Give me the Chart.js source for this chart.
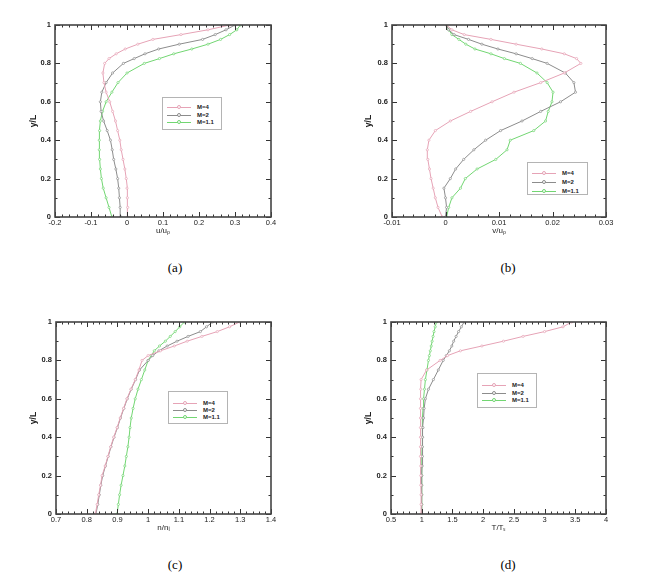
<!DOCTYPE html>
<html><head><meta charset="utf-8">
<script src="https://cdn.jsdelivr.net/npm/chart.js@4.4.0/dist/chart.umd.min.js"></script>
<style>
body{margin:0;background:#fff;width:670px;height:587px;position:relative;overflow:hidden;font-family:"Liberation Sans",Arial,sans-serif}
.pan{position:absolute;width:335px;height:250px}
.cap{position:absolute;font-family:"Liberation Serif","Times New Roman",serif;font-size:13px;width:40px;text-align:center;color:#000}
.leg{position:absolute;border:1px solid #b4b4b4;background:#fff;box-sizing:border-box}
.row{position:absolute;left:0;height:0}
.ln{position:absolute;left:4px;width:24px;height:0;border-top:1px solid}
.mk{position:absolute;left:14px;width:2px;height:2px;border:1px solid;border-radius:50%;top:-2px;background:#fff}
.lt{position:absolute;left:34px;top:-4px;font-size:6px;font-weight:bold;line-height:8px;white-space:nowrap;color:#222}
</style></head>
<body>
<div class="pan" style="left:0;top:0"><canvas id="ca" width="335" height="250"></canvas></div>
<div class="pan" style="left:335px;top:0"><canvas id="cb" width="335" height="250"></canvas></div>
<div class="pan" style="left:0;top:297px"><canvas id="cc" width="335" height="250"></canvas></div>
<div class="pan" style="left:335px;top:297px"><canvas id="cd" width="335" height="250"></canvas></div>
<div class="cap" style="left:155px;top:260px">(a)</div>
<div class="cap" style="left:488px;top:260px">(b)</div>
<div class="cap" style="left:155px;top:557px">(c)</div>
<div class="cap" style="left:488px;top:557px">(d)</div>
<script>
// ---- data ----
const seriesNames = ["M=4", "M=2", "M=1.1"];
const seriesColors = ["#e6a3b6", "#8c8c8c", "#72d672"];
const yLevels = [0,0.05,0.1,0.15,0.2,0.25,0.3,0.35,0.4,0.45,0.5,0.55,0.6,0.65,0.7,0.75,0.8,0.825,0.85,0.875,0.9,0.925,0.95,0.975,1];
const yTicks = [0,0.2,0.4,0.6,0.8,1];

// (a) u/u_p
const uM4  = [0.002,0.002,0.001,0.0,-0.002,-0.006,-0.011,-0.016,-0.02,-0.026,-0.032,-0.04,-0.048,-0.058,-0.064,-0.067,-0.062,-0.05,-0.03,-0.005,0.03,0.072,0.15,0.225,0.285];
const uM2  = [-0.017,-0.019,-0.021,-0.023,-0.026,-0.031,-0.037,-0.041,-0.046,-0.055,-0.065,-0.072,-0.074,-0.07,-0.058,-0.04,-0.01,0.02,0.05,0.088,0.145,0.21,0.245,0.275,0.3];
const uM11 = [-0.042,-0.05,-0.058,-0.066,-0.071,-0.074,-0.076,-0.077,-0.077,-0.076,-0.074,-0.068,-0.058,-0.042,-0.025,0.0,0.048,0.09,0.13,0.18,0.225,0.26,0.285,0.305,0.315];
// (b) v/u_p
const vM4  = [-0.0006,-0.0014,-0.0019,-0.0023,-0.0027,-0.003,-0.0033,-0.0034,-0.0031,-0.0019,0.0009,0.0047,0.0087,0.0128,0.0178,0.0222,0.0253,0.0245,0.0222,0.018,0.0132,0.0085,0.0035,0.0012,0.0002];
const vM2  = [0.0,0.0002,0.0,-0.0003,0.0009,0.0019,0.0034,0.0053,0.0075,0.0103,0.0143,0.0178,0.0215,0.0243,0.024,0.0224,0.019,0.0162,0.0132,0.0098,0.0068,0.0043,0.0016,0.0006,0.0002];
const vM11 = [0.0002,0.0006,0.0012,0.0028,0.0037,0.0059,0.0094,0.0115,0.0121,0.0165,0.0187,0.0192,0.0199,0.0201,0.019,0.0171,0.014,0.011,0.0085,0.0055,0.0038,0.0025,0.0012,0.0006,0.0002];
// (c) n/n_i
const nM4  = [0.828,0.834,0.839,0.845,0.85,0.86,0.869,0.878,0.888,0.899,0.909,0.92,0.931,0.944,0.958,0.97,0.98,1.0,1.04,1.085,1.127,1.175,1.225,1.265,1.298];
const nM2  = [0.83,0.836,0.841,0.846,0.852,0.861,0.87,0.879,0.889,0.9,0.91,0.921,0.932,0.945,0.959,0.972,1.0,1.015,1.035,1.062,1.094,1.13,1.17,1.19,1.21];
const nM11 = [0.899,0.903,0.907,0.912,0.918,0.924,0.929,0.934,0.938,0.941,0.945,0.951,0.958,0.967,0.978,0.989,1.0,1.01,1.02,1.037,1.056,1.072,1.088,1.103,1.118];
// (d) T/T_s
const tM4  = [0.99,0.99,0.99,0.985,0.985,0.985,0.98,0.98,0.98,0.98,0.98,0.98,0.98,0.985,0.99,1.08,1.3,1.42,1.63,1.98,2.33,2.65,3.0,3.3,3.44];
const tM2  = [1.0,1.0,1.0,1.0,1.0,1.005,1.01,1.01,1.015,1.02,1.03,1.04,1.06,1.11,1.19,1.27,1.35,1.4,1.45,1.49,1.52,1.56,1.6,1.645,1.69];
const tM11 = [1.0,1.0,1.0,1.0,1.0,1.002,1.004,1.006,1.008,1.01,1.015,1.022,1.03,1.045,1.06,1.085,1.11,1.125,1.14,1.155,1.17,1.185,1.2,1.22,1.24];

// ---- drawing ----
Chart.defaults.font.family = "'Liberation Sans', Arial, sans-serif";
Chart.defaults.color = '#222';
const fmt = v => String(parseFloat(Number(v).toFixed(4)));

const frameTicks = {
  id: 'frameTicks',
  afterDraw(chart, args, opts) {
    const {ctx, chartArea: a, scales: {x, y}} = chart;
    ctx.save();
    ctx.strokeStyle = '#333';
    ctx.lineWidth = 1;
    ctx.beginPath();
    const xs = (v, len) => { const p = Math.round(x.getPixelForValue(v)) + 0.5; ctx.moveTo(p, a.bottom); ctx.lineTo(p, a.bottom - len); ctx.moveTo(p, a.top); ctx.lineTo(p, a.top + len); };
    const ys = (v, len) => { const p = Math.round(y.getPixelForValue(v)) + 0.5; ctx.moveTo(a.left, p); ctx.lineTo(a.left + len, p); ctx.moveTo(a.right, p); ctx.lineTo(a.right - len, p); };
    const nx = Math.round((opts.xMax - opts.xMin) / opts.xMinor);
    for (let i = 0; i <= nx; i++) { const v = opts.xMin + i * opts.xMinor; xs(v, (i % opts.xPer === 0) ? 5 : 2.5); }
    for (let i = 0; i <= 10; i++) ys(i / 10, (i % 2 === 0) ? 5 : 2.5);
    ctx.stroke();
    ctx.lineWidth = 1.6;
    ctx.strokeStyle = '#444';
    ctx.strokeRect(a.left, a.top, a.right - a.left, a.bottom - a.top);
    ctx.restore();
  }
};

function makePanel(id, xMin, xMax, xStep, xMinor, xTitle, xs, left) {
  const datasets = xs.map((arr, k) => ({
    label: seriesNames[k],
    data: arr.map((v, i) => ({x: v, y: yLevels[i]})),
    showLine: true,
    borderColor: seriesColors[k],
    backgroundColor: '#fff',
    borderWidth: 1,
    pointRadius: 1.1,
    pointBorderWidth: 0.7,
    pointBorderColor: seriesColors[k],
    tension: 0
  }));
  new Chart(document.getElementById(id), {
    type: 'scatter',
    data: {datasets},
    plugins: [frameTicks],
    options: {
      responsive: false, animation: false,
      layout: {padding: {left: 0, top: 25, right: 64, bottom: 0}},
      plugins: {legend: {display: false}, tooltip: {enabled: false},
        frameTicks: {xMin, xMax, xMinor, xPer: Math.round(xStep / xMinor)}},
      scales: {
        x: {type: 'linear', min: xMin, max: xMax,
          grid: {display: false, drawTicks: false},
          border: {display: false},
          ticks: {stepSize: xStep, padding: 1, maxRotation: 0, font: {size: 7.5}, color: '#222', callback: fmt},
          title: {display: true, text: xTitle, font: {size: 8}, padding: {top: 0, bottom: 14}, color: '#222'},
          afterFit: s => { s.height = 33; s.paddingLeft = 0; s.paddingRight = 0; }
        },
        y: {type: 'linear', min: 0, max: 1,
          grid: {display: false, drawTicks: false},
          border: {display: false},
          afterBuildTicks: s => { s.ticks = yTicks.map(v => ({value: v})); },
          ticks: {padding: 4, font: {size: 7.5, weight: 'bold'}, color: '#222', callback: fmt},
          title: {display: true, text: 'y/L', font: {size: 8.5, weight: 'bold'}, padding: {top: 29, bottom: 0}, color: '#222'},
          afterFit: s => { s.width = left; s.paddingTop = 0; s.paddingBottom = 0; }
        }
      }
    }
  });
}

makePanel('ca', -0.2, 0.4, 0.1, 0.02, 'u/uₚ', [uM4, uM2, uM11], 55);
makePanel('cb', -0.01, 0.03, 0.01, 0.002, 'v/uₚ', [vM4, vM2, vM11], 57);
makePanel('cc', 0.7, 1.4, 0.1, 0.02, 'n/nᵢ', [nM4, nM2, nM11], 56);
makePanel('cd', 0.5, 4, 0.5, 0.1, 'T/Tₛ', [tM4, tM2, tM11], 56);

function makeLegend(left, top, w, h, rows) {
  const box = document.createElement('div');
  box.className = 'leg';
  box.style.cssText = `left:${left}px;top:${top}px;width:${w}px;height:${h}px`;
  rows.forEach((ry, k) => {
    const r = document.createElement('div');
    r.className = 'row';
    r.style.top = ry + 'px';
    r.innerHTML = `<div class="ln" style="border-color:${seriesColors[k]}"></div><div class="mk" style="border-color:${seriesColors[k]}"></div><div class="lt">${seriesNames[k]}</div>`;
    box.appendChild(r);
  });
  document.body.appendChild(box);
}
makeLegend(162, 97, 60, 33, [9, 17, 24]);
makeLegend(527, 162, 61, 33, [10, 19, 28]);
makeLegend(168, 391, 60, 33, [11, 18, 25]);
makeLegend(477, 373, 60, 35, [11, 19, 26]);
</script>
</body></html>
